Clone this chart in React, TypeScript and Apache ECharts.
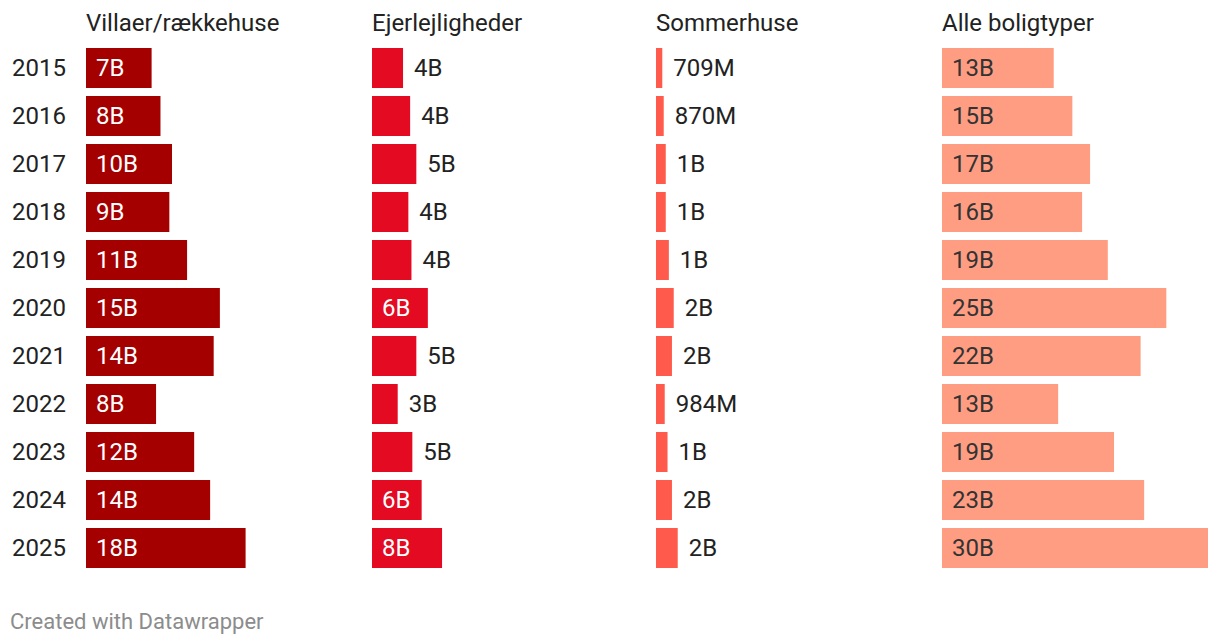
import React, { useEffect, useRef } from "react";
import * as echarts from "echarts";

const years = ["2015", "2016", "2017", "2018", "2019", "2020", "2021", "2022", "2023", "2024", "2025"];

const villaValues = [7.4, 8.4, 9.7, 9.4, 11.4, 15.1, 14.4, 7.9, 12.2, 14.0, 18.0];
const villaLabels = ["7B", "8B", "10B", "9B", "11B", "15B", "14B", "8B", "12B", "14B", "18B"];

const ejerValues = [3.5, 4.3, 5.0, 4.1, 4.45, 6.3, 5.0, 2.9, 4.55, 5.6, 7.9];
const ejerLabels = ["4B", "4B", "5B", "4B", "4B", "6B", "5B", "3B", "5B", "6B", "8B"];

const sommerValues = [0.709, 0.87, 1.1, 1.1, 1.45, 2.0, 1.8, 0.984, 1.3, 1.8, 2.45];
const sommerLabels = ["709M", "870M", "1B", "1B", "1B", "2B", "2B", "984M", "1B", "2B", "2B"];

const alleValues = [12.6, 14.7, 16.7, 15.8, 18.7, 25.3, 22.4, 13.1, 19.4, 22.8, 30.0];
const alleLabels = ["13B", "15B", "17B", "16B", "19B", "25B", "22B", "13B", "19B", "23B", "30B"];

const titles = ["Villaer/rækkehuse", "Ejerlejligheder", "Sommerhuse", "Alle boligtyper"];

const FONT = "Roboto, 'Noto Sans', Arial, sans-serif";

export default function App() {
  const ref = useRef<HTMLDivElement>(null);

  useEffect(() => {
    if (!ref.current) return;
    const chart = echarts.init(ref.current, undefined, { renderer: "svg" });

    const panels = [
      { values: villaValues, labels: villaLabels, color: "#a50000", insideText: "#ffffff", left: 86 },
      { values: ejerValues, labels: ejerLabels, color: "#e30a22", insideText: "#ffffff", left: 372 },
      { values: sommerValues, labels: sommerLabels, color: "#ff5a4c", insideText: "#ffffff", left: 656 },
      { values: alleValues, labels: alleLabels, color: "#ff9d82", insideText: "#333333", left: 942 },
    ];

    const grids = panels.map((p) => ({ left: p.left, top: 44, width: 266, height: 528 }));
    const xAxes = panels.map((_, i) => ({
      type: "value",
      gridIndex: i,
      min: 0,
      max: 30,
      show: false,
    }));
    const yAxes = panels.map((_, i) => ({
      type: "category",
      gridIndex: i,
      data: years,
      inverse: true,
      axisLine: { show: false },
      axisTick: { show: false },
      splitLine: { show: false },
      axisLabel: {
        show: i === 0,
        align: "left",
        margin: 74,
        fontSize: 24,
        color: "#222222",
        fontFamily: FONT,
      },
    }));

    const series = panels.map((p, i) => ({
      type: "bar",
      xAxisIndex: i,
      yAxisIndex: i,
      barWidth: 40,
      silent: true,
      itemStyle: { color: p.color },
      data: p.values.map((v, j) => {
        const inside = v > 5.3;
        return {
          value: v,
          label: {
            show: true,
            position: inside ? "insideLeft" : "right",
            distance: inside ? 10 : 11,
            formatter: () => p.labels[j],
            fontSize: 24,
            fontFamily: FONT,
            color: inside ? p.insideText : "#222222",
          },
        };
      }),
    }));

    const graphic: any[] = panels.map((p, i) => ({
      type: "text",
      x: p.left,
      y: 23,
      style: {
        text: titles[i],
        fontSize: 24,
        fontFamily: FONT,
        fill: "#222222",
        verticalAlign: "middle",
      },
    }));
    graphic.push({
      type: "text",
      x: 10,
      y: 621,
      style: {
        text: "Created with Datawrapper",
        fontSize: 22,
        fontFamily: FONT,
        fill: "#8c8c8c",
        verticalAlign: "middle",
      },
    });

    chart.setOption({
      animation: false,
      backgroundColor: "#ffffff",
      grid: grids,
      xAxis: xAxes,
      yAxis: yAxes,
      series,
      graphic,
    });

    return () => chart.dispose();
  }, []);

  return (
    <div
      ref={ref}
      style={{ position: "fixed", left: 0, top: 0, width: 1220, height: 644, background: "#fff" }}
    />
  );
}
